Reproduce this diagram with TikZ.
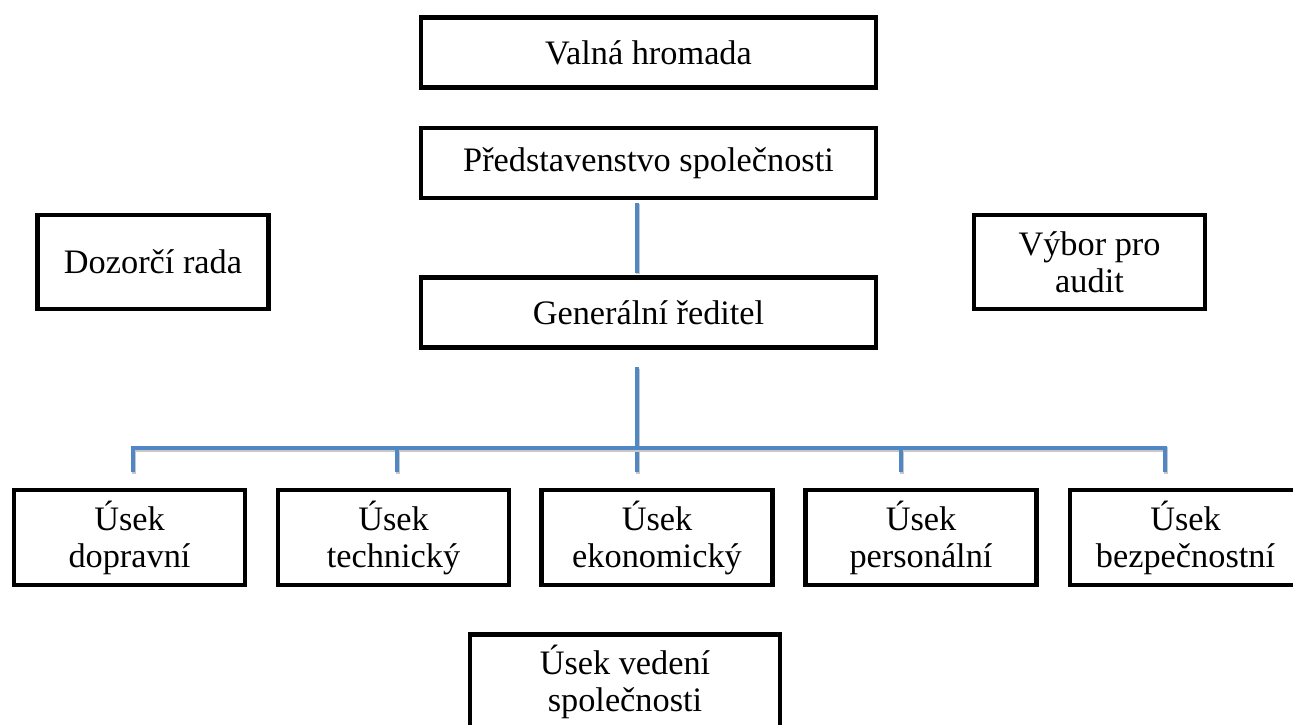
\documentclass[tikz,border=0pt]{standalone}
\usepackage{fontspec}
\setmainfont{Liberation Serif}
\definecolor{linkblue}{RGB}{80,135,196}
\tikzset{
  orgbox/.style={
    draw,
    line width=4.8pt,
    inner sep=0pt,
    align=center,
    font=\fontsize{34.3}{37}\selectfont,
    minimum width=455pt,
    minimum height=70pt
  },
  sidebox/.style={
    orgbox,
    minimum width=231pt,
    minimum height=94pt
  },
  usekbox/.style={
    sidebox,
    minimum height=95pt
  },
  link/.style={
    linkblue,
    line width=4.3pt,
    preaction={draw=black!22,line width=4.3pt,transform canvas={xshift=1pt,yshift=-1.5pt}}
  },
}

\begin{document}
\begin{tikzpicture}[x=1pt,y=-1pt]
  \useasboundingbox[fill=white] (0,0) rectangle (1293,724);
  \node[orgbox] (valna) at (648.5,52.5) {Valná hromada};
  \node[orgbox] (pred) at (648.5,163) {Představenstvo společnosti};
  \node[orgbox] (gen) at (648.5,312.5) {Generální ředitel};
  \node[sidebox] (dozor) at (153,262) {Dozorčí rada};
  \node[sidebox] (vybor) at (1089.5,262) {Výbor pro\\audit};
  \foreach \x/\nm/\txt in {129.5/dopr/dopravní,393.5/tech/technický,657/ekon/ekonomický,921/pers/personální,1185.5/bezp/bezpečnostní}
    \node[usekbox] (\nm) at (\x,537.5) {Úsek\\\txt};
  \node[usekbox,minimum width=310pt] (vedeni) at (625,682) {Úsek vedení\\společnosti};
  % spojnice
  \coordinate (axis) at (637,0);
  \coordinate (gdrop) at (637,367);
  \coordinate (tend) at (0,472);
  \foreach \x [count=\i] in {133,397,637,901,1165}
    \coordinate (t\i) at (\x,448);
  \draw[link,shorten <=2.4pt,shorten >=2.4pt] (pred.south -| axis) -- (gen.north -| axis);
  \draw[link] (gdrop) -- (t3) -- (t3 |- tend);
  \draw[link] (t1 |- tend) -- (t1) -- (t5) -- (t5 |- tend);
  \draw[link] (t2) -- (t2 |- tend);
  \draw[link] (t4) -- (t4 |- tend);
\end{tikzpicture}
\end{document}
